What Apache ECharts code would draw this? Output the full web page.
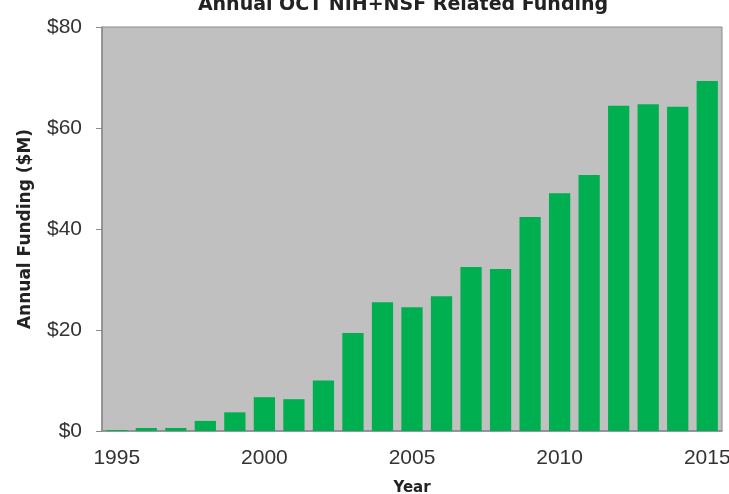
<!DOCTYPE html>
<html><head><meta charset="utf-8">
<script src="https://cdn.jsdelivr.net/npm/echarts@6/dist/echarts.min.js"></script>
<style>html,body{margin:0;padding:0;background:#fff}#c{width:729px;height:494px}</style>
</head><body><div id="c"></div>
<script>
var years = ['1995','1996','1997','1998','1999','2000','2001','2002','2003','2004','2005','2006','2007','2008','2009','2010','2011','2012','2013','2014','2015'];
var funding = [0.2,0.6,0.6,2.0,3.7,6.7,6.3,10.0,19.4,25.5,24.5,26.7,32.5,32.1,42.4,47.1,50.7,64.4,64.7,64.2,69.3];
var yTicks = [0,20,40,60,80];

var chart = echarts.init(document.getElementById('c'));
chart.setOption({
  animation:false,
  title:{text:'Annual OCT NIH+NSF Related Funding', left:398, textAlign:'center', top:-9,
    textStyle:{fontFamily:'DejaVu Sans', fontWeight:'bold', fontSize:19, color:'#222'}},
  grid:{left:102, right:7, top:27, bottom:63, containLabel:false, outerBoundsMode:'none',
    show:true, backgroundColor:'#c0c0c0', borderColor:'#8a8a8a', borderWidth:1},
  xAxis:{type:'category', data:years, name:'Year', nameLocation:'middle', nameGap:50,
    nameTextStyle:{fontFamily:'DejaVu Sans', fontWeight:'bold', fontSize:15, color:'#222'},
    axisLine:{lineStyle:{color:'#8a8a8a', width:1.5}},
    axisTick:{show:false},
    axisLabel:{interval:4, margin:17, fontFamily:'Liberation Sans', fontSize:21, color:'#333'}},
  yAxis:{type:'value', min:yTicks[0], max:yTicks[yTicks.length-1], interval:20,
    name:'Annual Funding ($M)', nameLocation:'middle', nameGap:68,
    nameTextStyle:{fontFamily:'DejaVu Sans', fontWeight:'bold', fontSize:17, color:'#222'},
    splitLine:{show:false},
    axisLine:{show:true, lineStyle:{color:'#8a8a8a', width:1.5}},
    axisTick:{show:true, length:6, lineStyle:{color:'#8a8a8a'}},
    axisLabel:{margin:20, fontFamily:'Liberation Sans', fontSize:21, color:'#333', formatter:function(v){return '$'+v;}}},
  series:[{type:'bar', data:funding, barCategoryGap:'28%', itemStyle:{color:'#00b050'}}]
});
</script></body></html>
